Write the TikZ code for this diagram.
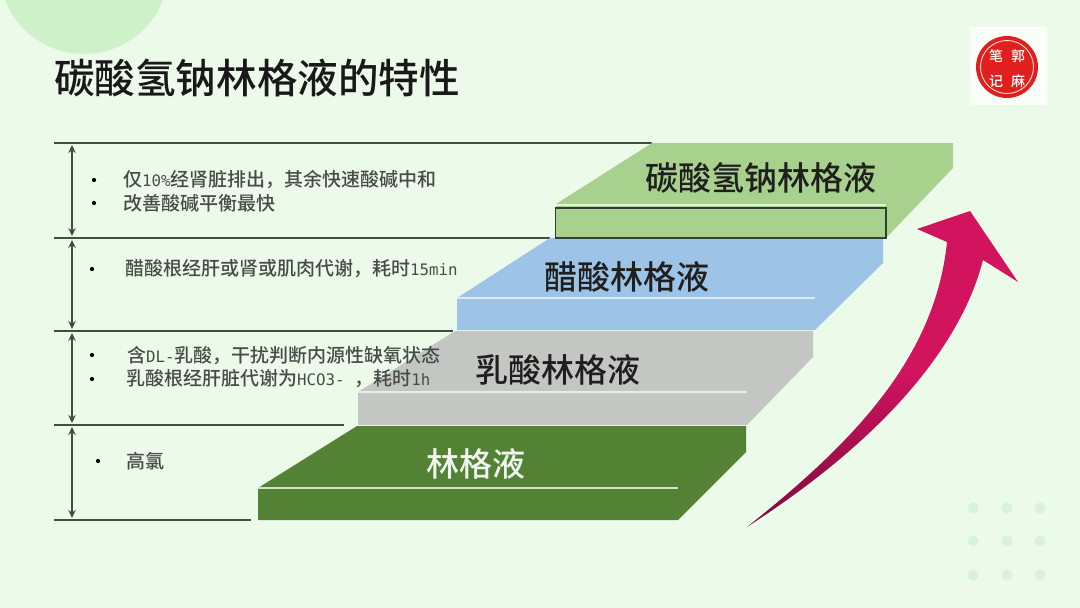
\documentclass[tikz,border=0pt]{standalone}
\usepackage{fontspec}
\usetikzlibrary{arrows.meta}
\setmainfont[UprightFont=* Medium]{Noto Sans CJK SC}
\newfontfamily\halffont{DejaVu Sans Mono}
\newcommand{\halfw}[1]{{\halffont\fontsize{15.8}{20}\selectfont #1}}
\definecolor{pagebg}{HTML}{ECFBE9}
\definecolor{blobgreen}{HTML}{CFF1CA}
\definecolor{dotgreen}{HTML}{D7F3D8}
\definecolor{rulegray}{HTML}{3F4F3F}
\definecolor{txtgray}{HTML}{484C48}
\definecolor{layerlime}{HTML}{A9D18E}
\definecolor{layerblue}{HTML}{9DC3E6}
\definecolor{layergray}{HTML}{C4C6C3}
\definecolor{layergreen}{HTML}{548235}
\definecolor{arrowred}{HTML}{D2145F}
\definecolor{arrowdark}{HTML}{7E0A3E}
\definecolor{stampred}{HTML}{E0201E}
\tikzset{
        layerline/.style={line width=1.3pt},
        rulestyle/.style={rulegray,line width=1.4pt},
        dimstyle/.style={{Stealth[length=8pt,width=7.5pt]}-{Stealth[length=8pt,width=7.5pt]},rulegray,line width=1.3pt,shorten >=2pt,shorten <=2pt},
        dotstyle/.style={circle,fill=black,inner sep=1.5pt},
        notetext/.style={anchor=west,inner sep=0pt,txtgray,font=\fontsize{19}{20}\selectfont},
        layertext/.style={inner sep=0pt,font=\fontsize{33}{34}\selectfont},
        stamptext/.style={inner sep=0pt,white,font=\fontsize{14}{14}\selectfont}
}
\begin{document}
\begin{tikzpicture}[x=1pt,y=-1pt]
        \useasboundingbox (0,0) rectangle (1080,608);
        \clip (0,0) rectangle (1080,608);
        \fill[pagebg] (0,0) rectangle (1080,608);
        \fill[blobgreen] (84,-31) circle (85);
        \foreach \x in {973,1007,1040} {
            \foreach \y in {508,541,575} {
                \fill[dotgreen] (\x,\y) circle (5.5);
            }
        }
        \node[anchor=west,inner sep=0pt,black!90,font=\fontsize{40.6}{42}\selectfont] (title) at (54,78) {碳酸氢钠林格液的特性};

        \fill[white!70!pagebg] (970,27) rectangle (1047,105);
        \fill[stampred] (1007,67) circle (31);
        \draw[white!85!stampred,line width=.9pt] (1007,67) circle (26.5);
        \node[stamptext] (stampa) at (996,56) {笔};
        \node[stamptext] (stampb) at (1018,56) {郭};
        \node[stamptext] (stampc) at (996,81) {记};
        \node[stamptext] (stampd) at (1018,81) {麻};

        \foreach \n/\y/\xe in {1/143/652,2/238/550,3/331/453,4/425/344,5/520/251} {
            \coordinate (ruleL\n) at (54,\y);
            \coordinate (ruleR\n) at (\xe,\y);
            \coordinate (dim\n) at (72,\y);
            \draw[rulestyle] (ruleL\n) -- (ruleR\n);
        }
        \foreach \a/\b in {1/2,2/3,3/4,4/5} {
            \draw[dimstyle] (dim\a) -- (dim\b);
        }

        \fill[layergreen] (357,426) -- (746,426) -- (746,452) -- (678,520) -- (258,520) -- (258,488) -- cycle;
        \draw[white!75!layergreen,layerline] (258,488) -- (678,488);
        \fill[layergray] (455,331) -- (813,331) -- (813,357) -- (747,425) -- (358,425) -- (358,392) -- cycle;
        \draw[white!65!layergray,layerline] (358,392) -- (747,392);
        \fill[layerblue] (550,238) -- (883,238) -- (883,263) -- (815,330) -- (457,330) -- (457,298) -- cycle;
        \draw[white!65!layerblue,layerline] (457,298) -- (815,298);
        \fill[layerlime] (652,143) -- (953,143) -- (953,168) -- (886,238) -- (556,238) -- (556,204) -- cycle;
        \draw[white!70!layerlime,layerline] (556,205) -- (886,205);
        \draw[rulegray!80!black,line width=1.2pt] (555.5,208) rectangle (886,238);

        \node[layertext,black!88] (limelabel) at (761,178) {碳酸氢钠林格液};
        \node[layertext,black!88] (bluelabel) at (627,277) {醋酸林格液};
        \node[layertext,black!88] (graylabel) at (558,370) {乳酸林格液};
        \node[layertext,white!92!layergreen] (greenlabel) at (476,464) {林格液};

        \node[dotstyle] (dota) at (94,180) {};
        \node[notetext] (notea) at (123,180) {仅\halfw{10\%}经肾脏排出，其余快速酸碱中和};
        \node[dotstyle] (dotb) at (94,203) {};
        \node[notetext] (noteb) at (123,203) {改善酸碱平衡最快};
        \node[dotstyle] (dotc) at (92,269) {};
        \node[notetext] (notec) at (125,269) {醋酸根经肝或肾或肌肉代谢，耗时\halfw{15min}};
        \node[dotstyle] (dotd) at (92,355) {};
        \node[notetext] (noted) at (127,356) {含\halfw{DL-}乳酸，干扰判断内源性缺氧状态};
        \node[dotstyle] (dote) at (92,379) {};
        \node[notetext] (notee) at (126,379) {乳酸根经肝脏代谢为\halfw{HCO3- }，耗时\halfw{1h}};
        \node[dotstyle] (dotf) at (98,461) {};
        \node[notetext] (notef) at (126,461) {高氯};

        \shade[bottom color=arrowdark,top color=arrowred,middle color=arrowred] (747,527)
            .. controls (850,445) and (935,360) .. (947,242)
            -- (917,229) -- (970,211) -- (1018,282) -- (983,260)
            .. controls (965,330) and (905,425) .. (747,527) -- cycle;
\end{tikzpicture}
\end{document}
